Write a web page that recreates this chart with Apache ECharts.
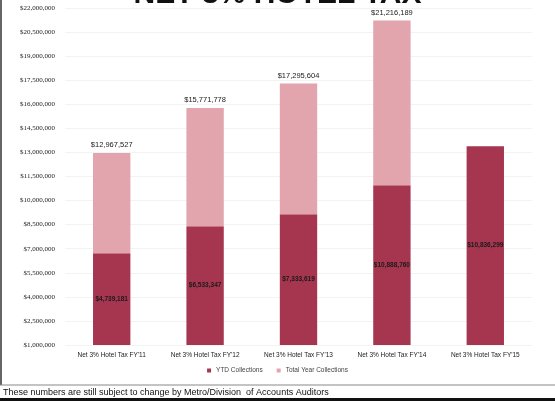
<!DOCTYPE html>
<html>
<head>
<meta charset="utf-8">
<script src="https://cdn.jsdelivr.net/npm/echarts@6/dist/echarts.min.js"></script>
<style>html,body{margin:0;padding:0;background:#fff;}#c{width:555px;height:401px;}</style>
</head>
<body>
<div id="c"></div>
<script>
const categories = ["Net 3% Hotel Tax FY'11", "Net 3% Hotel Tax FY'12", "Net 3% Hotel Tax FY'13", "Net 3% Hotel Tax FY'14", "Net 3% Hotel Tax FY'15"];
const ytdValues = [6720000, 8400000, 9150000, 10960000, 13380000];
const ytdLabels = ["$4,739,181", "$6,533,347", "$7,333,619", "$10,888,760", "$10,836,299"];
const totalValues = [12967527, 15771778, 17295604, 21216189, null];
const totalLabels = ["$12,967,527", "$15,771,778", "$17,295,604", "$21,216,189", ""];
const remainder = totalValues.map((t, i) => t == null ? '-' : t - ytdValues[i]);

const chart = echarts.init(document.getElementById('c'));
chart.setOption({
  animation: false,
  backgroundColor: '#fff',
  grid: { left: 65, right: 23, top: 8, bottom: 56, containLabel: false },
  legend: {
    bottom: 22, left: 'center', itemWidth: 4, itemHeight: 4, itemGap: 14,
    textStyle: { fontSize: 6.5, color: '#444', fontFamily: 'Liberation Sans' },
    data: [{ name: 'YTD Collections', icon: 'rect' }, { name: 'Total Year Collections', icon: 'rect' }]
  },
  xAxis: {
    type: 'category', data: categories,
    axisLine: { show: false }, axisTick: { show: false },
    axisLabel: { fontSize: 6.5, color: '#222', fontFamily: 'Liberation Sans', margin: 7, interval: 0 }
  },
  yAxis: {
    type: 'value', min: 1000000, max: 22000000, interval: 1500000,
    axisLine: { show: false }, axisTick: { show: false },
    splitLine: { lineStyle: { color: '#f3f3f3' } },
    axisLabel: {
      fontSize: 7, color: '#222', fontFamily: 'Liberation Serif', margin: 10,
      formatter: v => '$' + v.toLocaleString('en-US')
    }
  },
  series: [
    {
      name: 'YTD Collections', type: 'bar', stack: 'a', barWidth: '40%',
      data: ytdValues, itemStyle: { color: '#a6364f' },
      label: { show: true, position: 'inside', fontSize: 6.5, fontWeight: 'bold', color: '#1a1a1a',
        fontFamily: 'Liberation Sans', formatter: p => ytdLabels[p.dataIndex] }
    },
    {
      name: 'Total Year Collections', type: 'bar', stack: 'a', barWidth: '40%',
      data: remainder, itemStyle: { color: '#e2a4ad' },
      label: { show: true, position: 'top', distance: 4, fontSize: 7.5, color: '#1a1a1a',
        fontFamily: 'Liberation Sans', formatter: p => totalLabels[p.dataIndex] }
    }
  ],
  graphic: [
    { type: 'text', left: 'center', top: -20, style: { text: 'NET 3% HOTEL TAX', fontSize: 30, fontWeight: 900, fontFamily: 'Liberation Sans', fill: '#111' } },
    { type: 'line', shape: { x1: 1, y1: 0, x2: 1, y2: 385 }, style: { stroke: '#333', lineWidth: 1.5 } },
    { type: 'line', shape: { x1: 0, y1: 385, x2: 555, y2: 385 }, style: { stroke: '#888', lineWidth: 1 } },
    { type: 'text', left: 3, top: 388, style: { text: 'These numbers are still subject to change by Metro/Division  of Accounts Auditors', fontSize: 9, fontFamily: 'Liberation Sans', fill: '#111' } },
    { type: 'rect', shape: { x: 0, y: 398, width: 555, height: 3 }, style: { fill: '#111' } }
  ]
});
</script>
</body>
</html>
